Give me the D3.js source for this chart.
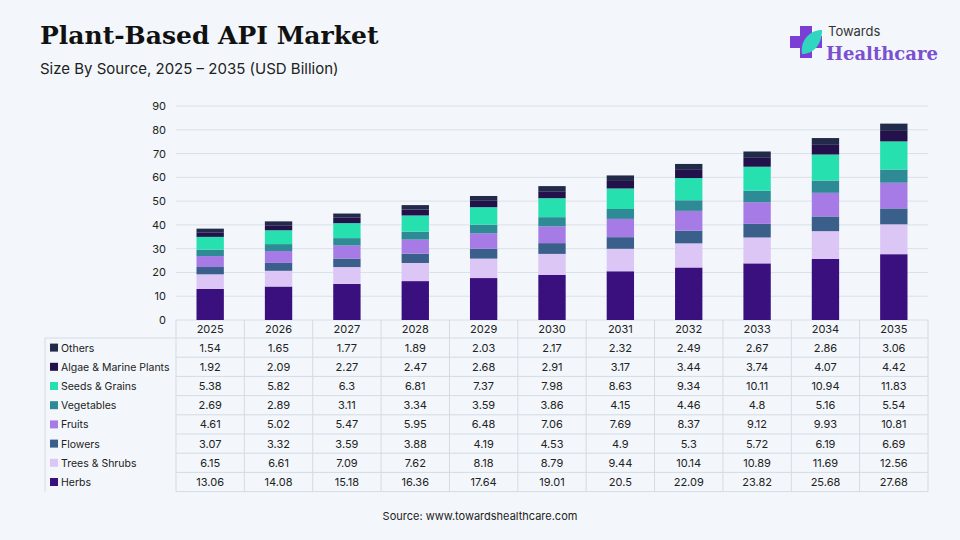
<!DOCTYPE html>
<html><head><meta charset="utf-8">
<script src="https://cdn.jsdelivr.net/npm/d3@7"></script>
<style>body{margin:0;background:#f3f7fb;font-family:Inter,"Noto Sans",sans-serif}</style>
</head><body>
<script>
var years = ['2025','2026','2027','2028','2029','2030','2031','2032','2033','2034','2035'];
var series = ['Herbs','Trees & Shrubs','Flowers','Fruits','Vegetables','Seeds & Grains','Algae & Marine Plants','Others'];
var colors = ['#3a0f7e','#dcc6f5','#3a5f8a','#a77be6','#2e8a94','#27e0b0','#24104a','#222a4a'];
var herbs = [13.06,14.08,15.18,16.36,17.64,19.01,20.5,22.09,23.82,25.68,27.68];
var trees = [6.15,6.61,7.09,7.62,8.18,8.79,9.44,10.14,10.89,11.69,12.56];
var flowers = [3.07,3.32,3.59,3.88,4.19,4.53,4.9,5.3,5.72,6.19,6.69];
var fruits = [4.61,5.02,5.47,5.95,6.48,7.06,7.69,8.37,9.12,9.93,10.81];
var vegetables = [2.69,2.89,3.11,3.34,3.59,3.86,4.15,4.46,4.8,5.16,5.54];
var seeds = [5.38,5.82,6.3,6.81,7.37,7.98,8.63,9.34,10.11,10.94,11.83];
var algae = [1.92,2.09,2.27,2.47,2.68,2.91,3.17,3.44,3.74,4.07,4.42];
var others = [1.54,1.65,1.77,1.89,2.03,2.17,2.32,2.49,2.67,2.86,3.06];
var yTicks = [0,10,20,30,40,50,60,70,80,90];
var values = [herbs,trees,flowers,fruits,vegetables,seeds,algae,others];

var svg = d3.select('body').append('svg').attr('width',960).attr('height',540);
svg.append('rect').attr('width',960).attr('height',540).attr('fill','#f3f7fb');

svg.append('text').attr('x',40).attr('y',44).text('Plant-Based API Market')
  .style('font-family','"DejaVu Serif",serif').style('font-weight','bold').style('font-size','25px').attr('fill','#111');
svg.append('text').attr('x',40).attr('y',74).text('Size By Source, 2025 \u2013 2035 (USD Billion)')
  .style('font-size','15px').attr('fill','#222');

// logo
var lg = svg.append('g').attr('transform','translate(790,26)');
lg.append('path').attr('d','M10,0h12v10h10v12h-10v10h-12v-10h-10v-12h10z').attr('fill','#7b3fd6');
lg.append('path').attr('d','M12,28 C10,14 20,4 32,4 C32,18 24,28 12,28z').attr('fill','#2fd6c0');
svg.append('text').attr('x',828).attr('y',36).text('Towards').style('font-size','13px').attr('fill','#333');
svg.append('text').attr('x',826).attr('y',60).text('Healthcare')
  .style('font-family','"DejaVu Serif",serif').style('font-weight','bold').style('font-size','18px').attr('fill','#7a4fd0');

var x0 = 176, x1 = 928;
var x = d3.scaleBand().domain(years).range([x0,x1]);
var y = d3.scaleLinear().domain([0,90]).range([320,106]);

svg.append('g').selectAll('line').data(yTicks).join('line')
  .attr('x1',x0).attr('x2',x1).attr('y1',d=>y(d)).attr('y2',d=>y(d))
  .attr('stroke','#d9e0e8');
svg.append('g').selectAll('text').data(yTicks).join('text')
  .attr('x',166).attr('y',d=>y(d)+4).attr('text-anchor','end').text(d=>d)
  .style('font-size','11px').attr('fill','#222');

var stackData = years.map((yr,i)=>{var o={year:yr};series.forEach((s,j)=>o[s]=values[j][i]);return o;});
var stacked = d3.stack().keys(series)(stackData);
var bw = x.bandwidth()*0.4;
svg.append('g').selectAll('g').data(stacked).join('g').attr('fill',(d,i)=>colors[i])
  .selectAll('rect').data(d=>d).join('rect')
  .attr('x',d=>x(d.data.year)+(x.bandwidth()-bw)/2).attr('width',bw)
  .attr('y',d=>y(d[1])).attr('height',d=>y(d[0])-y(d[1]));

// table
var rowH = 19.2, tTop = 320, lx = 45;
var rows = series.slice().reverse();
var tg = svg.append('g');
tg.selectAll('text.yr').data(years).join('text').attr('class','yr')
  .attr('x',d=>x(d)+x.bandwidth()/2).attr('y',tTop+13).attr('text-anchor','middle').text(d=>d)
  .style('font-size','11px').attr('fill','#222');
for (var k=0;k<=rows.length;k++){
  tg.append('line').attr('x1',k==0?lx:x0).attr('x2',x1).attr('y1',tTop+18+k*rowH).attr('y2',tTop+18+k*rowH).attr('stroke','#d3dbe4');
}
tg.selectAll('line.v').data(years.concat(['end'])).join('line').attr('class','v')
  .attr('x1',d=>d=='end'?x1:x(d)).attr('x2',d=>d=='end'?x1:x(d))
  .attr('y1',tTop).attr('y2',tTop+18+rows.length*rowH).attr('stroke','#d3dbe4');
tg.append('line').attr('x1',lx).attr('x2',lx).attr('y1',tTop+18).attr('y2',tTop+18+rows.length*rowH).attr('stroke','#d3dbe4');
rows.forEach((s,r)=>{
  var j = series.indexOf(s), cy = tTop+18+r*rowH+rowH/2;
  tg.append('rect').attr('x',lx+5).attr('y',cy-4).attr('width',8).attr('height',8).attr('fill',colors[j]);
  tg.append('text').attr('x',lx+16).attr('y',cy+4).text(s).style('font-size','10.5px').attr('fill','#222');
  tg.selectAll(null).data(values[j]).join('text')
    .attr('x',(d,i)=>x(years[i])+x.bandwidth()/2).attr('y',cy+4).attr('text-anchor','middle').text(d=>d)
    .style('font-size','11px').attr('fill','#222');
});

svg.append('text').attr('x',480).attr('y',520).attr('text-anchor','middle').text('Source: www.towardshealthcare.com')
  .style('font-size','11px').attr('fill','#222');
</script>
</body></html>
